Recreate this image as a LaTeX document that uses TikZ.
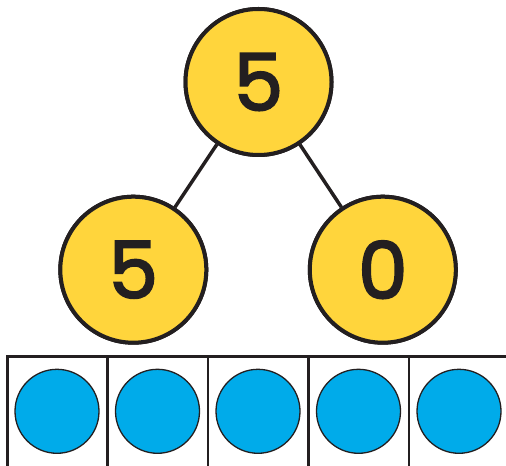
\documentclass[tikz,border=0pt]{standalone}
\usepackage{fontspec}
\setmainfont{Poppins}
\newfontfamily\numfont{Poppins}[FakeBold=2.5]
\definecolor{numyellow}{HTML}{FFD53C}
\definecolor{dotblue}{HTML}{00ABEA}
\definecolor{inkdark}{HTML}{231F20}
\tikzset{
  bond/.style={circle, draw=inkdark, line width=4bp, fill=numyellow, minimum size=146bp, inner sep=0pt,
    font=\numfont\fontsize{79}{79}\selectfont, text=inkdark},
  counter/.style={circle, draw=inkdark, line width=1.3bp, fill=dotblue, minimum size=84bp, inner sep=0pt},
  link/.style={draw=inkdark, line width=3.5bp},
  framecell/.style={draw=inkdark, line width=2.8bp}
}
\begin{document}
\begin{tikzpicture}[x=1bp,y=-1bp]
\useasboundingbox (0,0) rectangle (506,466);
\begin{scope}
\clip (0,0) rectangle (506,466);
% ten frame
\draw[framecell] (7.5,470) -- (7.5,356.7) -- (515,356.7);
\foreach \xx in {107.5,208,308.5,409,509.5}{
  \draw[framecell] (\xx,356.7) -- (\xx,470);
}
\foreach \i/\xx in {1/57,2/157.5,3/258,4/358.5,5/459}{
  \node[counter] (c\i) at (\xx,411.3) {};
}
% number bond: place nodes, draw links, then redraw nodes on top
\node[bond] (top) at (258.5,82) {5};
\node[bond] (left) at (133.3,269.7) {5};
\node[bond] (right) at (382.8,269.7) {0};
\path[link] (top) -- (left);
\path[link] (top) -- (right);
\node[bond] at (top) {5};
\node[bond] at (left) {5};
\node[bond] at (right) {0};
\end{scope}
\end{tikzpicture}
\end{document}
